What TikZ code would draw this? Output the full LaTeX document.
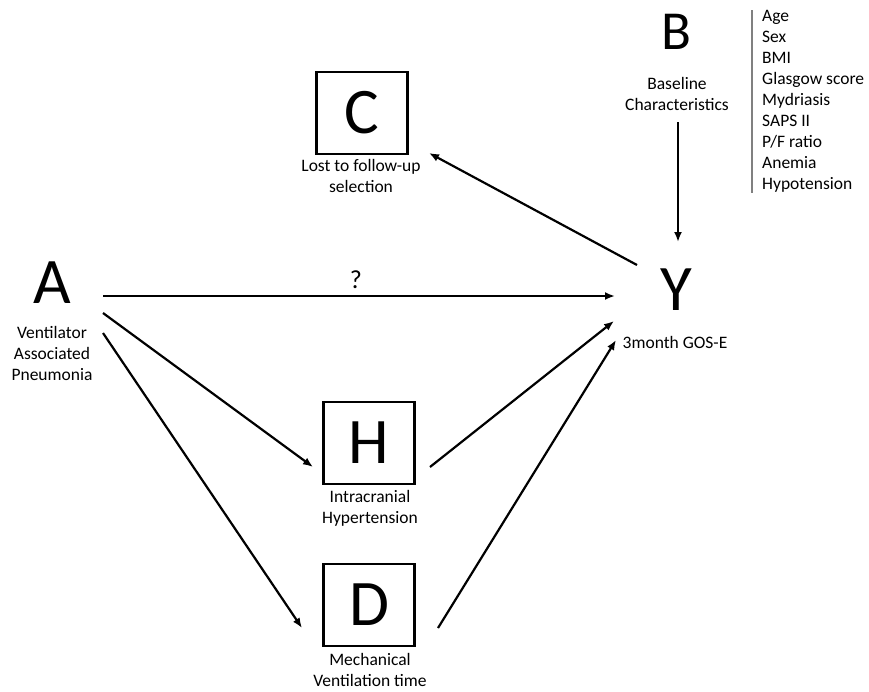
\documentclass[tikz,border=0pt]{standalone}
\usepackage{fontspec}
\setmainfont{Carlito}
\usetikzlibrary{arrows.meta}
\begin{document}
\begin{tikzpicture}[x=1pt,y=-1pt,
 big/.style={font=\fontsize{65}{65}\selectfont, inner sep=0pt},
 lbl/.style={font=\fontsize{17.5}{21}\selectfont, align=center, inner sep=0pt},
 box/.style={draw, line width=2.2pt, minimum width=91pt, minimum height=82pt, inner sep=0pt, font=\fontsize{65}{65}\selectfont},
 arr/.style={line width=2.2pt, -{Latex[length=10pt,width=8pt]}},
]
\useasboundingbox (0,0) rectangle (869,691);
\node[big] (A) at (52,283) {A};
\node[lbl] (Alab) at (52,353) {Ventilator\\Associated\\Pneumonia};
\node[big] (Y) at (676,290) {Y};
\node[lbl] (Ylab) at (675,342) {3month GOS-E};
\node[big, font=\fontsize{55}{55}\selectfont] (B) at (676,32) {B};
\node[lbl] (Blab) at (677,94) {Baseline\\Characteristics};
\node[box] (C) at (362,113) {C};
\node[lbl] (Clab) at (361,176) {Lost to follow-up\\selection};
\node[box] (H) at (369,443) {H};
\node[lbl] (Hlab) at (370,508) {Intracranial\\Hypertension};
\node[box] (D) at (369,605) {D};
\node[lbl] (Dlab) at (370,670) {Mechanical\\Ventilation time};
\node[lbl, align=left, anchor=north west] (list) at (762,10) {Age\\Sex\\BMI\\Glasgow score\\Mydriasis\\SAPS II\\P/F ratio\\Anemia\\Hypotension};
\node[lbl, font=\fontsize{26}{26}\selectfont] (q) at (356,280) {?};
\coordinate (g1) at (752,10);
\coordinate (g2) at (752,193);
\draw[gray, line width=1.5pt] (g1) -- (g2);
\coordinate (b1) at (678,122);
\coordinate (b2) at (678,242);
\coordinate (yc1) at (637,265);
\coordinate (yc2) at (429,153);
\coordinate (a1) at (103,296);
\coordinate (ya) at (615,296);
\coordinate (a2) at (103,313);
\coordinate (h1) at (313,467);
\coordinate (h2) at (430,467);
\coordinate (yh) at (614,321);
\coordinate (a3) at (103,333);
\coordinate (d1) at (302,628);
\coordinate (d2) at (438,628);
\coordinate (yd) at (616,340);
\draw[arr] (b1) -- (b2);
\draw[arr] (yc1) -- (yc2);
\draw[arr] (a1) -- (ya);
\draw[arr] (a2) -- (h1);
\draw[arr] (h2) -- (yh);
\draw[arr] (a3) -- (d1);
\draw[arr] (d2) -- (yd);
\end{tikzpicture}
\end{document}
